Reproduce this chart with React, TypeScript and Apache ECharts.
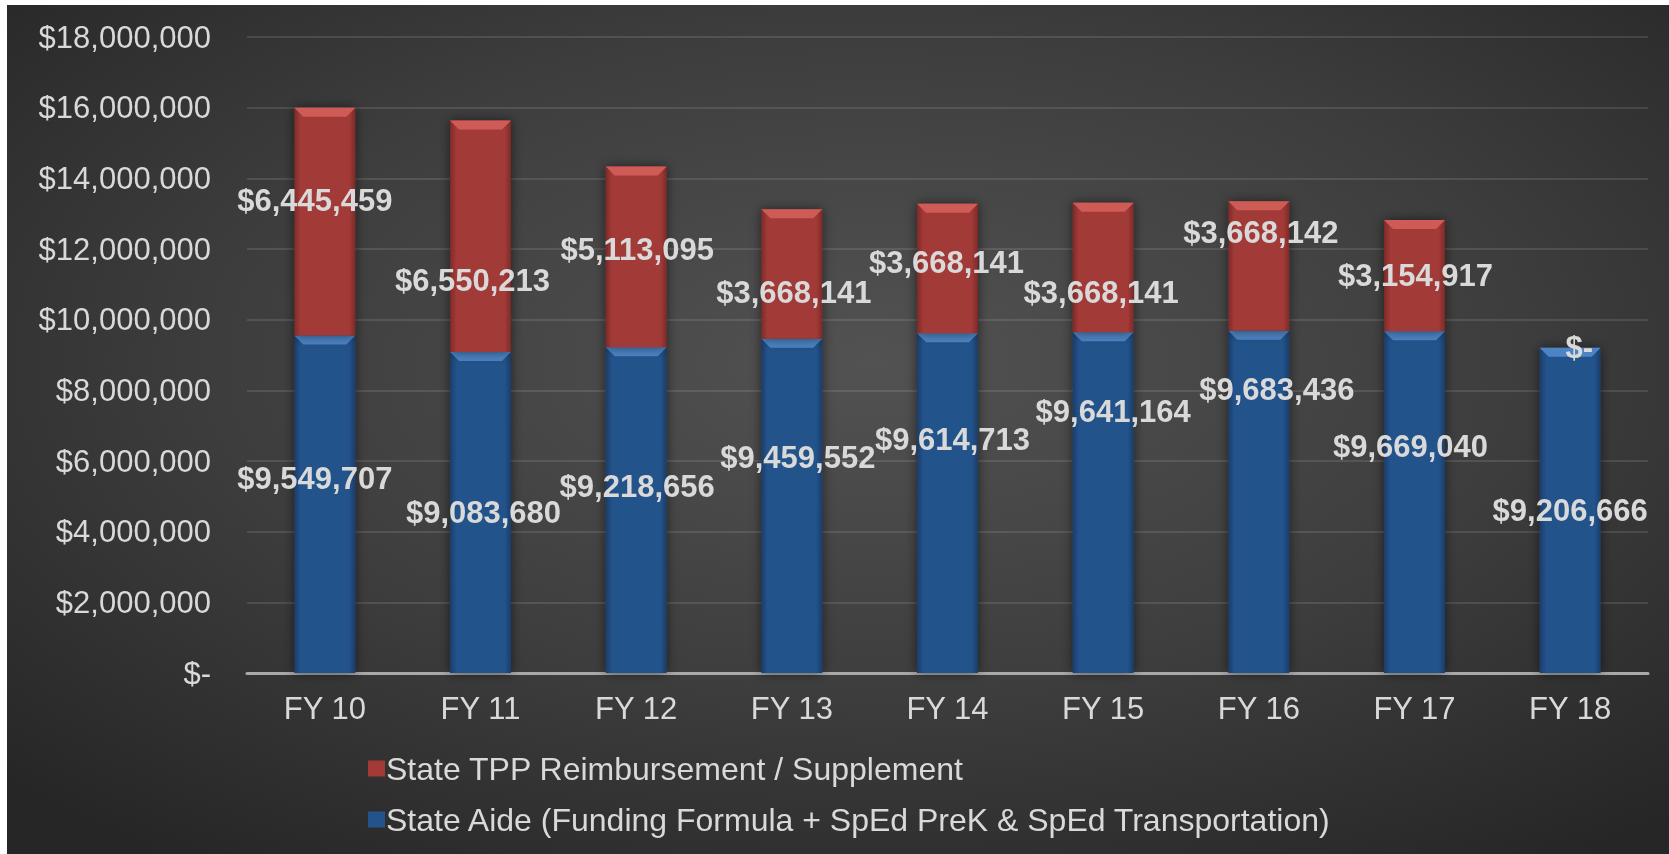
import React, { useEffect, useRef } from "react";
import * as echarts from "echarts";

const categories = ["FY 10", "FY 11", "FY 12", "FY 13", "FY 14", "FY 15", "FY 16", "FY 17", "FY 18"];
const stateAide = [9549707, 9083680, 9218656, 9459552, 9614713, 9641164, 9683436, 9669040, 9206666];
const tppReimbursement = [6445459, 6550213, 5113095, 3668141, 3668141, 3668141, 3668142, 3154917, 0];
const yMin = 0;
const yMax = 18000000;
const yInterval = 2000000;

const tppName = "State TPP Reimbursement / Supplement";
const aideName = "State Aide (Funding Formula + SpEd PreK & SpEd Transportation)";

// label nudges (px) relative to the segment centre, as placed in the original
const tppLabelOffsets = [[-10, -21], [-8, 44], [1, -7], [2, 19], [-1, -6], [-2, 25], [2, -34], [1, 0], [9, 0]];
const aideLabelOffsets = [[-10, -26], [3, 0], [1, -24], [6, -48], [5, -64], [10, -91], [18, -112], [-4, -56], [0, 0]];

const FONT = "'Liberation Sans', Arial, sans-serif";
const TEXT = "#d9d9d9";
const BAR_W = 61;

const RED = { edge: "#7c2a28", mid: "#a23a37", bevel: "#cf5b56" };
const BLUE = { edge: "#1a3d6a", mid: "#24528a", bevel: "#4d84c4" };

const money = (v: number) => (v === 0 ? "$-" : "$" + v.toLocaleString("en-US"));

function hGrad(edge: string, mid: string) {
  return new echarts.graphic.LinearGradient(0, 0, 1, 0, [
    { offset: 0, color: edge },
    { offset: 0.1, color: mid },
    { offset: 0.9, color: mid },
    { offset: 1, color: edge },
  ]);
}

export default function App() {
  const ref = useRef<HTMLDivElement>(null);
  useEffect(() => {
    if (!ref.current) return;
    const chart = echarts.init(ref.current, undefined, { renderer: "svg" });

    const segData: any[] = [];
    categories.forEach((_, i) => {
      segData.push([i, 0, stateAide[i], 0]);
      segData.push([i, stateAide[i], stateAide[i] + tppReimbursement[i], 1]);
    });

    const labelBase = {
      show: true,
      position: "inside",
      color: TEXT,
      fontFamily: FONT,
      fontSize: 31,
      fontWeight: "bold",
      formatter: (p: any) => money(p.value),
    };

    chart.setOption({
      animation: false,
      backgroundColor: new echarts.graphic.RadialGradient(0.52, 0.42, 0.72, [
        { offset: 0, color: "#525252" },
        { offset: 0.55, color: "#3d3d3d" },
        { offset: 1, color: "#262626" },
      ]),
      textStyle: { fontFamily: FONT },
      grid: { left: 240, right: 21, top: 32, bottom: 181, containLabel: false },
      legend: {
        orient: "vertical",
        left: 356,
        top: 740,
        itemWidth: 17,
        itemHeight: 16,
        itemGap: 14,
        icon: "rect",
        data: [
          { name: tppName, itemStyle: { color: RED.mid } },
          { name: aideName, itemStyle: { color: BLUE.mid } },
        ],
        textStyle: { color: TEXT, fontSize: 32, fontFamily: FONT, lineHeight: 37, padding: [0, 0, 0, -4] },
      },
      xAxis: {
        type: "category",
        data: categories,
        axisTick: { show: false },
        axisLine: { show: true, lineStyle: { color: "#a9a9a9", width: 3 } },
        axisLabel: { color: TEXT, fontSize: 31, fontFamily: FONT, margin: 20 },
      },
      yAxis: {
        type: "value",
        min: yMin,
        max: yMax,
        interval: yInterval,
        axisLine: { show: false },
        axisTick: { show: false },
        axisLabel: { color: TEXT, fontSize: 31, fontFamily: FONT, margin: 36, formatter: (v: number) => money(v) },
        splitLine: { show: true, lineStyle: { color: "rgba(255,255,255,0.15)", width: 1.5 } },
      },
      series: [
        {
          type: "custom",
          silent: true,
          z: 2,
          data: segData,
          encode: { x: 0, y: [1, 2] },
          renderItem: (params: any, api: any) => {
            const idx = api.value(0);
            const bottom = api.value(1);
            const top = api.value(2);
            const kind = api.value(3);
            const pTop = api.coord([idx, top]);
            const pBot = api.coord([idx, bottom]);
            const h = pBot[1] - pTop[1];
            if (h <= 0.5) return null;
            const c = kind === 1 ? RED : BLUE;
            const d = Math.min(9, h);
            const x0 = pTop[0] - BAR_W / 2;
            const x1 = pTop[0] + BAR_W / 2;
            const y = pTop[1];
            return {
              type: "group",
              children: [
                {
                  type: "rect",
                  shape: { x: x0, y, width: BAR_W, height: h },
                  style: {
                    fill: hGrad(c.edge, c.mid),
                    shadowBlur: 12,
                    shadowColor: "rgba(0,0,0,0.55)",
                  },
                },
                {
                  type: "polygon",
                  shape: { points: [[x0, y], [x1, y], [x1 - d, y + d], [x0 + d, y + d]] },
                  style: { fill: c.bevel },
                },
              ],
            };
          },
        },
        {
          name: aideName,
          type: "bar",
          stack: "total",
          barWidth: BAR_W,
          data: stateAide.map((v, i) => ({
            value: v,
            label: { ...labelBase, offset: aideLabelOffsets[i] },
          })),
          itemStyle: { color: "rgba(0,0,0,0)" },
          label: labelBase,
          z: 3,
        },
        {
          name: tppName,
          type: "bar",
          stack: "total",
          barWidth: BAR_W,
          data: tppReimbursement.map((v, i) => ({
            value: v,
            label: { ...labelBase, offset: tppLabelOffsets[i] },
          })),
          itemStyle: { color: "rgba(0,0,0,0)" },
          label: labelBase,
          z: 3,
        },
      ],
    });
    return () => chart.dispose();
  }, []);

  return (
    <div
      ref={ref}
      style={{ position: "fixed", left: 7, top: 5, width: 1662, height: 849 }}
    />
  );
}
